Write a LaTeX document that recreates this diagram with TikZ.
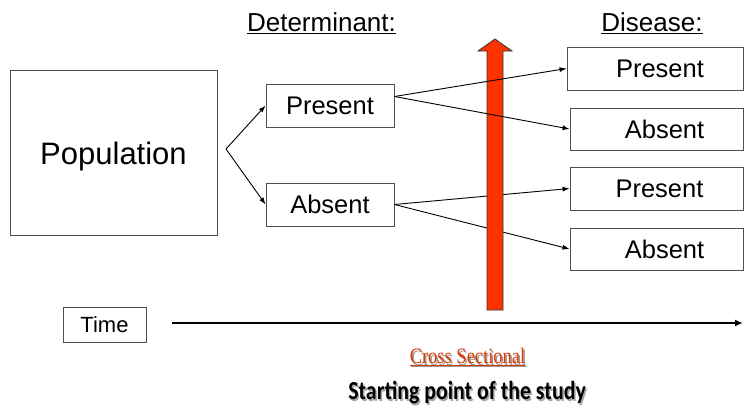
\documentclass[tikz,border=0pt]{standalone}
\usepackage{fontspec}
\usepackage{graphicx}
\setmainfont{Liberation Sans}
\newfontfamily\timesft{Liberation Serif}
\newfontfamily\calibft{Carlito}
\usetikzlibrary{arrows.meta}
\definecolor{barred}{HTML}{FF3300}
\definecolor{xsred}{HTML}{D93A00}
\definecolor{boxline}{HTML}{505050}
\tikzset{
  box/.style={draw=boxline, line width=0.9pt, fill=white, inner sep=0pt,
              font=\fontsize{25.5}{28}\selectfont},
  link/.style={line width=0.9pt, -{Latex[length=7pt,width=5pt]}},
  head/.style={font=\fontsize{26}{30}\selectfont, inner sep=0pt},
  xsfont/.style={font=\timesft\fontsize{22}{26}\selectfont, inner sep=0pt},
  spfont/.style={font=\calibft\bfseries\fontsize{26}{30}\selectfont, inner sep=0pt}
}
\newcommand{\xsq}[1]{\scalebox{0.84}[1]{#1}}
\begin{document}
\begin{tikzpicture}[x=1pt,y=-1pt]
\useasboundingbox (0,0) rectangle (744,413);

% column headings
\node[head] (hdet) at (321.5,23) {\underline{Determinant:}};
\node[head] (hdis) at (652,23) {\underline{Disease:}};

% population and determinant status
\node[box, minimum width=207pt, minimum height=165pt,
      font=\fontsize{31}{34}\selectfont] (pop) at (113.5,152.5)
      {\raisebox{-4pt}[\height][\depth]{Population}};
\node[box, minimum width=128pt, minimum height=43pt] (dp) at (330,105.5) {Present};
\node[box, minimum width=128pt, minimum height=43pt] (da) at (330,204.5) {Absent};

% disease status
\node[box, minimum width=176pt, minimum height=43pt] (d1) at (655,68.5) {\hspace*{10pt}Present};
\node[box, minimum width=173pt, minimum height=42pt] (d2) at (656.5,129) {\hspace*{16pt}Absent};
\node[box, minimum width=173pt, minimum height=43pt] (d3) at (656.5,188.5) {\hspace*{6pt}Present};
\node[box, minimum width=173pt, minimum height=42pt] (d4) at (656.5,249) {\hspace*{16pt}Absent};

% branching from the population
\coordinate (br) at (226,149);
\draw[link] (br) -- (dp.west);
\draw[link] (br) -- (da.west);

% links from the absent group pass behind the bar
\draw[link] (da.east) -- (d3.west);
\draw[link] (da.east) -- (d4.west);

% cross-sectional time bar
\filldraw[fill=barred, draw=black!80, line width=0.8pt]
  (487,310) -- (487,51) -- (478,51) -- (495,39) -- (512,51) -- (503,51) -- (503,310) -- cycle;

% links from the present group pass over the bar
\draw[link] ([yshift=9pt]dp.east) -- (d1.west);
\draw[link] ([yshift=9pt]dp.east) -- (d2.west);

% time axis
\node[box, minimum width=83pt, minimum height=35pt,
      font=\fontsize{22}{26}\selectfont] (time) at (104.5,325) {Time};
\coordinate (t0) at (172,323);
\coordinate (t1) at (743,323);
\draw[line width=2pt, -{Latex[length=8pt,width=7pt]}] (t0) -- (t1);

% captions, each with a soft grey drop shadow
\node[xsfont, text=black!40] at (469,358.5) {\xsq{\underline{Cross Sectional}}};
\node[xsfont, text=xsred] (xs) at (467.5,357) {\xsq{\underline{Cross Sectional}}};
\node[spfont, text=black!35] at (468.5,394.5) {\xsq{Starting point of the study}};
\node[spfont] (sp) at (467,393) {\xsq{Starting point of the study}};
\end{tikzpicture}
\end{document}
